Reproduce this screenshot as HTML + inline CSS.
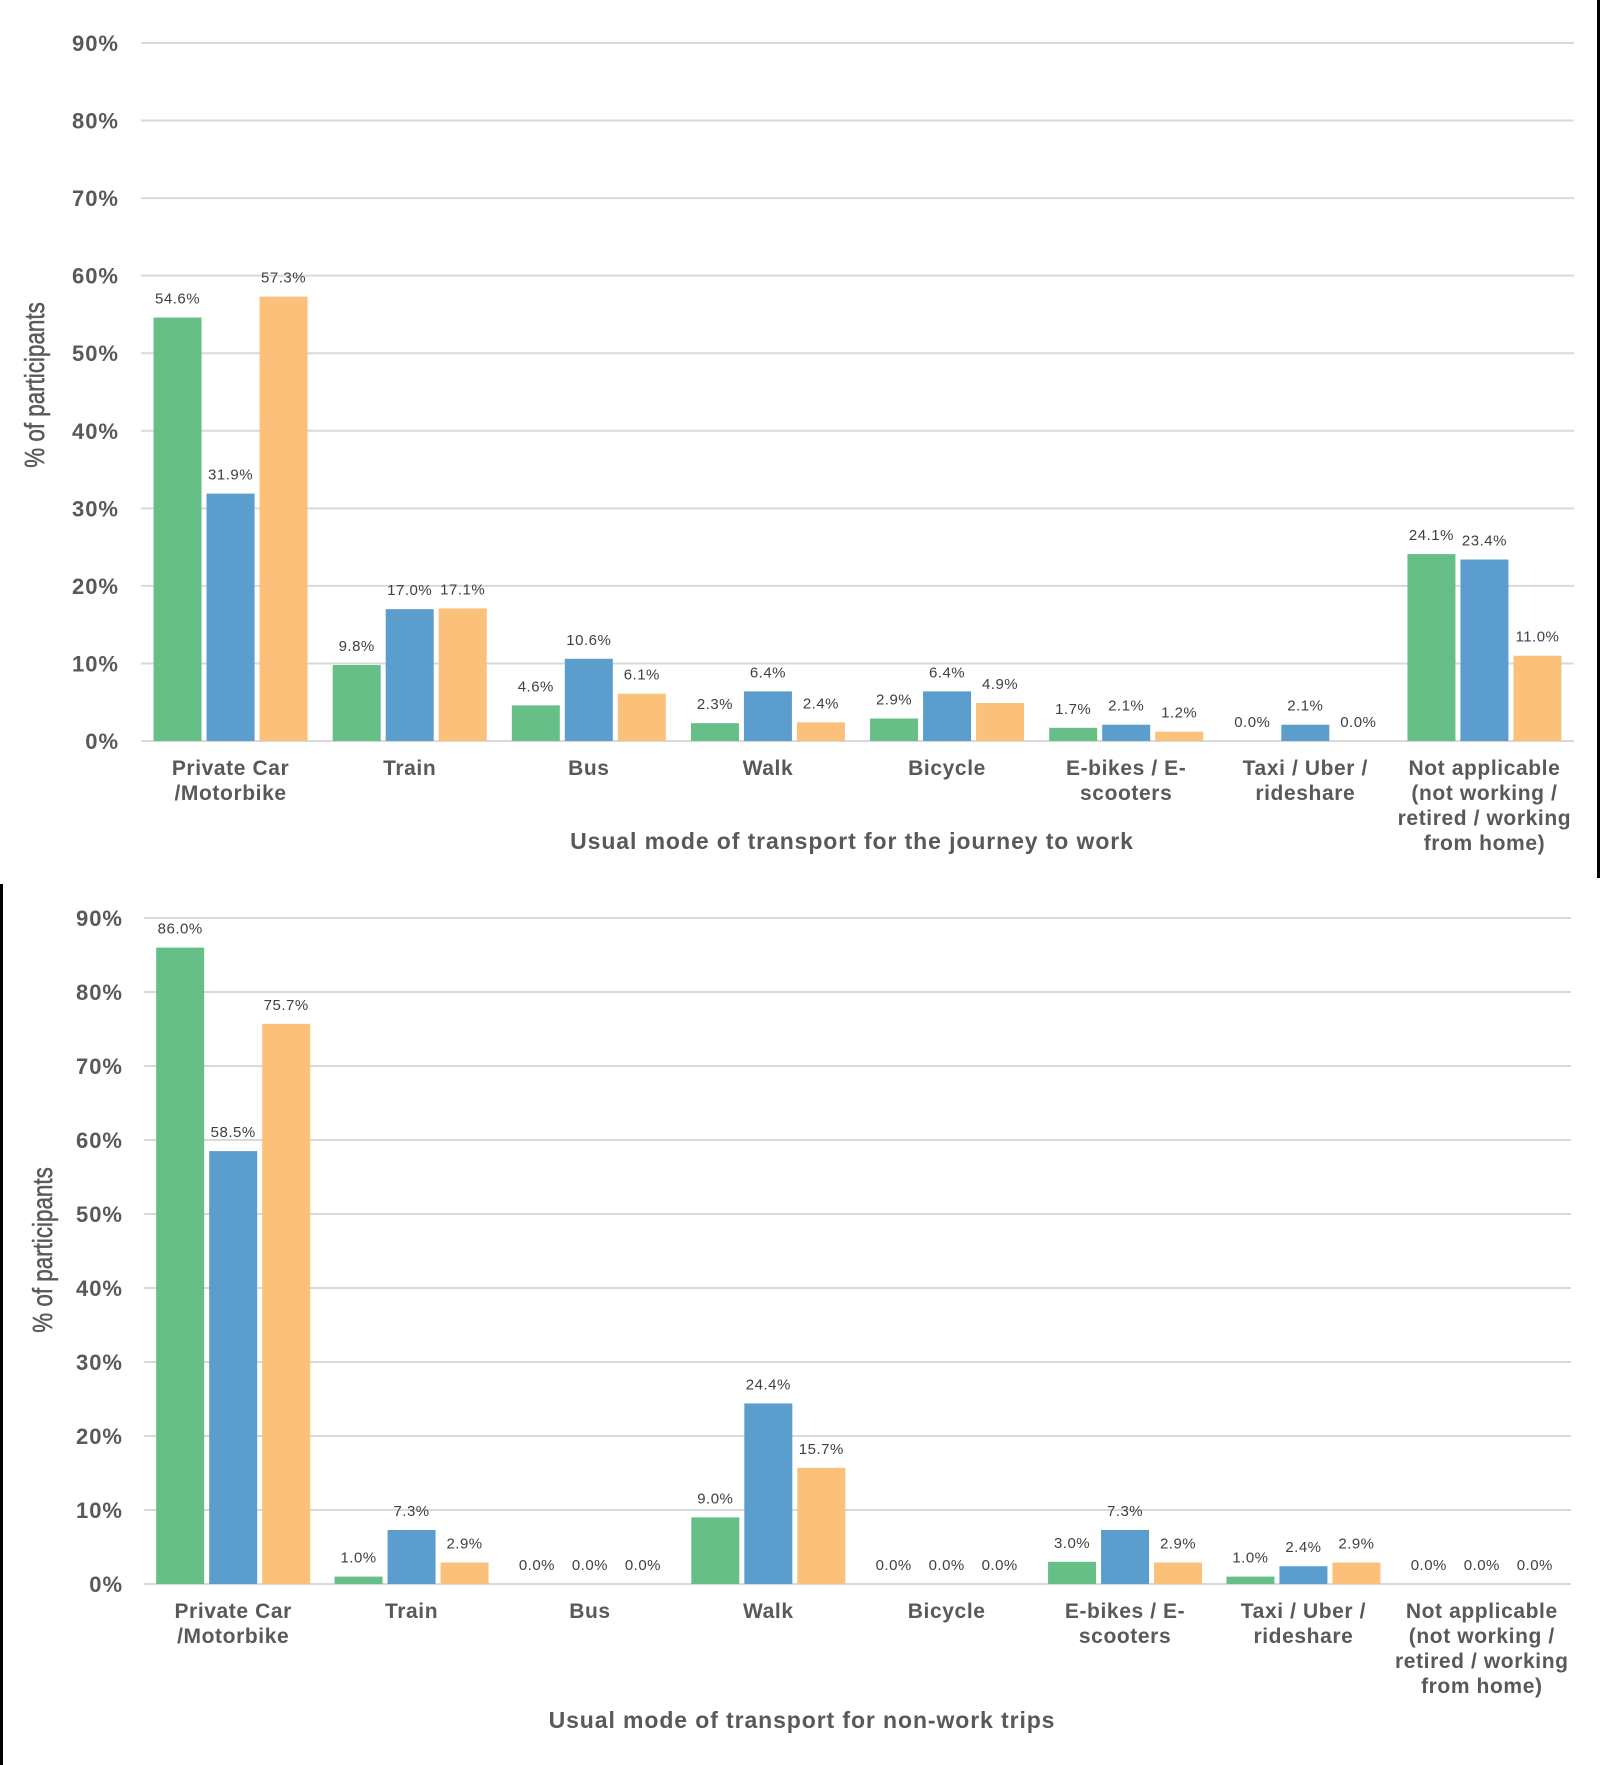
<!DOCTYPE html>
<html><head><meta charset="utf-8"><style>
html,body{margin:0;padding:0;background:#fff;}
svg{display:block;font-family:"Liberation Sans",sans-serif;}
</style></head><body>
<svg id="svg" width="1600" height="1765" viewBox="0 0 1600 1765">
<rect x="1597" y="0" width="3" height="878" fill="#000"/>
<rect x="0" y="884" width="3" height="881" fill="#000"/>
</svg>
<script>
const categories = [["Private Car","/Motorbike"],["Train"],["Bus"],["Walk"],["Bicycle"],["E-bikes / E-","scooters"],["Taxi / Uber /","rideshare"],["Not applicable","(not working /","retired / working","from home)"]];
const workGreen = [54.6,9.8,4.6,2.3,2.9,1.7,0.0,24.1];
const workBlue = [31.9,17.0,10.6,6.4,6.4,2.1,2.1,23.4];
const workOrange = [57.3,17.1,6.1,2.4,4.9,1.2,0.0,11.0];
const nonGreen = [86.0,1.0,0.0,9.0,0.0,3.0,1.0,0.0];
const nonBlue = [58.5,7.3,0.0,24.4,0.0,7.3,2.4,0.0];
const nonOrange = [75.7,2.9,0.0,15.7,0.0,2.9,2.9,0.0];
const ticks = [0,10,20,30,40,50,60,70,80,90];
const colors = ["#66bf87","#5b9ecd","#fbc07a"];
const svg = document.getElementById('svg');
const NS = "http://www.w3.org/2000/svg";
function mk(tag, attrs, text){
  const e = document.createElementNS(NS, tag);
  for (const k in attrs) e.setAttribute(k, attrs[k]);
  if (text !== undefined) e.textContent = text;
  svg.appendChild(e);
  return e;
}
function chart(cfg, series, prefix){
  const y = v => cfg.y0 - (v/90)*(cfg.y0-cfg.y90);
  const step = (cfg.x1-cfg.x0)/categories.length;
  ticks.forEach(t=>{
    const g = mk('line',{x1:cfg.x0,x2:cfg.x1,y1:y(t),y2:y(t),stroke:'#d9d9d9','stroke-width':2});
    
    
    const l = mk('text',{x:cfg.tx,y:y(t)+8,'text-anchor':'end','font-size':22,'font-weight':'bold','letter-spacing':1,fill:'#595959'}, t+'%');
    
    
  });
  const bw = 48, gap = 5;
  categories.forEach((c,i)=>{
    const cx = cfg.x0 + step*(i+0.5);
    series.forEach((s,j)=>{
      const v = s[i];
      const bx = cx + (j-1)*(bw+gap) - bw/2;
      const r = mk('rect',{x:bx,y:y(v),width:bw,height:cfg.y0-y(v),fill:colors[j]});
      
      
      const t = mk('text',{x:bx+bw/2,y:y(v)-14,'text-anchor':'middle','font-size':15,'letter-spacing':0.5,fill:'#404040'}, v.toFixed(1)+'%');
      
      
    });
    c.forEach((line,k)=>{
      const t = mk('text',{x:cx,y:cfg.catY+k*25,'text-anchor':'middle','font-size':21,'font-weight':'bold','letter-spacing':0.6,fill:'#595959'}, line);
      
      
    });
  });
  const xt = mk('text',{x:cfg.titleX,y:cfg.titleY,'text-anchor':'middle','font-size':23,'font-weight':'bold','letter-spacing':0.9,fill:'#595959'}, cfg.title);
  
  
  const yt = mk('text',{x:0,y:0,'text-anchor':'middle','font-size':28,fill:'#595959',stroke:'#595959','stroke-width':0.5,transform:`translate(${cfg.ytX},${cfg.ytY}) rotate(-90) scale(0.8,1)`}, '% of participants');
  
  
}
chart({x0:141,x1:1574,y0:741,y90:43,tx:119,catY:775,titleX:852,titleY:849,title:'Usual mode of transport for the journey to work',ytX:44,ytY:385}, [workGreen,workBlue,workOrange], 'work');
chart({x0:144,x1:1571,y0:1584,y90:918,tx:123,catY:1618,titleX:802,titleY:1728,title:'Usual mode of transport for non-work trips',ytX:52,ytY:1250}, [nonGreen,nonBlue,nonOrange], 'nonwork');
</script>
</body></html>
